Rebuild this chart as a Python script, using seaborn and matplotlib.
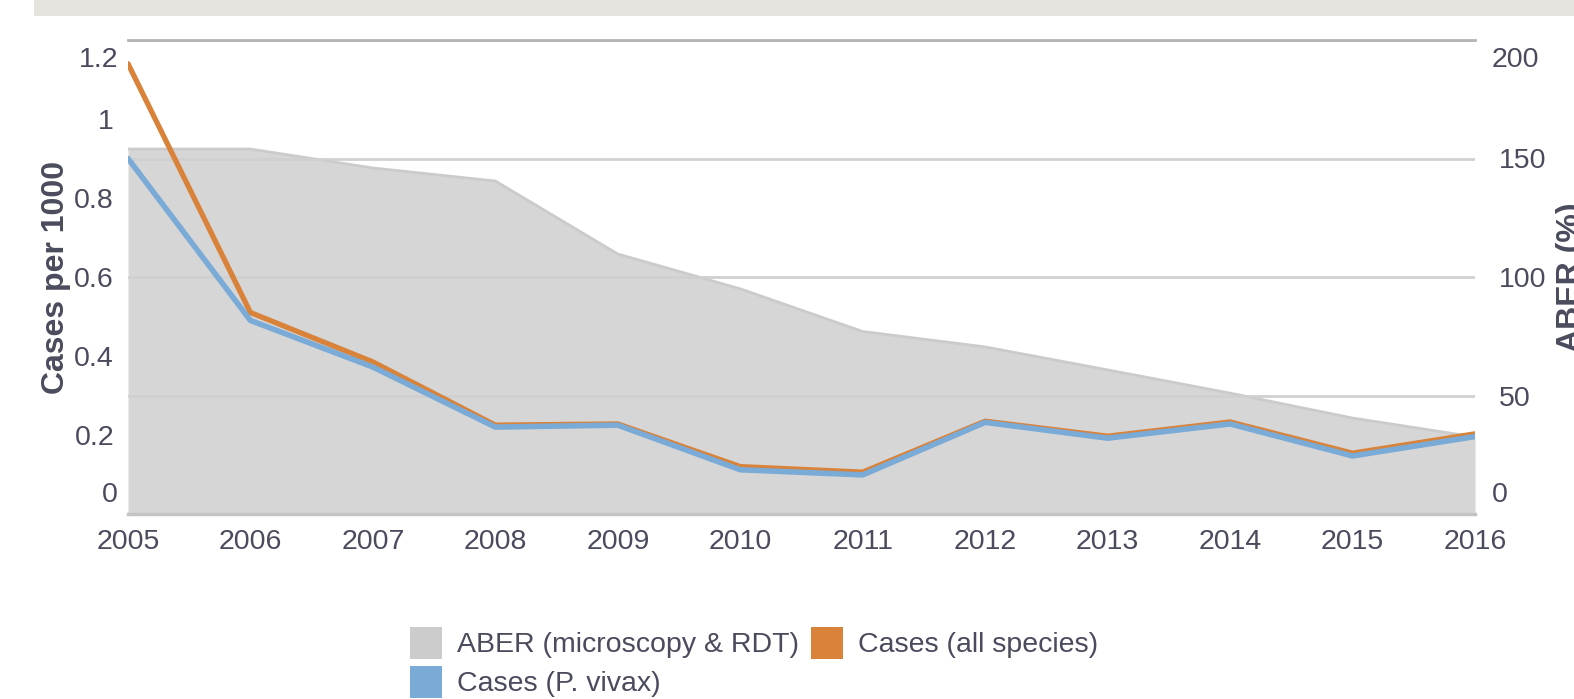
import matplotlib
matplotlib.use("Agg")
import matplotlib.pyplot as plt
import seaborn as sns
import pandas as pd
from matplotlib.patches import Patch, Rectangle

years = [2005, 2006, 2007, 2008, 2009, 2010, 2011, 2012, 2013, 2014, 2015, 2016]
cases_all = [1.14, 0.51, 0.385, 0.225, 0.228, 0.120, 0.106, 0.235, 0.197, 0.233, 0.154, 0.203]
cases_vivax = [0.90, 0.49, 0.372, 0.220, 0.225, 0.112, 0.099, 0.232, 0.192, 0.228, 0.147, 0.196]
aber = [154, 154, 146, 140.5, 109.7, 95, 77, 70.5, 60.8, 51, 40.5, 32.5]

left_ticks = [0, 0.2, 0.4, 0.6, 0.8, 1.0, 1.2]
left_labels = ["0", "0.2", "0.4", "0.6", "0.8", "1", "1.2"]
right_ticks = [0, 50, 100, 150, 200]
right_labels = ["0", "50", "100", "150", "200"]

df = pd.DataFrame({"year": years, "all": cases_all, "vivax": cases_vivax, "aber": aber})

TXT = "#4a4b5c"
GREY_FILL = "#d6d6d6"
GREY_EDGE = "#cbcbcb"
ORANGE = "#d9823a"
BLUE = "#7aaad6"
FS = 20.5

sns.set_theme(style="white")
plt.rcParams["font.family"] = ["Liberation Sans", "DejaVu Sans"]

W, H = 1574, 699
fig = plt.figure(figsize=(W / 100, H / 100), dpi=100)
fig.patches.append(Rectangle((34 / W, 1 - 16 / H), 1, 16 / H, transform=fig.transFigure,
                             facecolor="#e5e4df", edgecolor="none"))

pos = [128 / W, 1 - 514 / H, (1475 - 128) / W, (514 - 40) / H]
ax = fig.add_axes(pos)
ax2 = ax.twinx()

# ABER area on right axis
ax2.fill_between(df["year"], 0, df["aber"], color=GREY_FILL, linewidth=0, zorder=1)
sns.lineplot(data=df, x="year", y="aber", ax=ax2, color=GREY_EDGE, linewidth=2, zorder=1.2)
ax2.set_ylim(0, 200)
ax2.set_yticks(right_ticks)
ax2.set_yticklabels(["", "50", "100", "150", ""])
ax2.set_axisbelow("line")
ax2.yaxis.grid(True, color="#d0d0d0", linewidth=2)
ax2.xaxis.grid(False)

# Case lines on left axis (on top)
ax.set_zorder(ax2.get_zorder() + 1)
ax.patch.set_visible(False)
sns.lineplot(data=df, x="year", y="all", ax=ax, color=ORANGE, linewidth=3.8, zorder=3)
sns.lineplot(data=df, x="year", y="vivax", ax=ax, color=BLUE, linewidth=4.0, zorder=4)
ax.set_ylim(0, 1.2)
ax.set_xlim(2005, 2016)
ax.set_yticks(left_ticks)
ax.set_yticklabels(["", "0.2", "0.4", "0.6", "0.8", "1", ""])
ax.set_xticks(years)
ax.set_xticklabels([str(y) for y in years])
ax.grid(False)

for a in (ax, ax2):
    for s in ("left", "right"):
        a.spines[s].set_visible(False)
    a.spines["top"].set_visible(a is ax)
    a.spines["bottom"].set_visible(a is ax)
ax.spines["top"].set_color("#b4b4b4")
ax.spines["top"].set_linewidth(2)
ax.spines["bottom"].set_color("#c4c4c4")
ax.spines["bottom"].set_linewidth(2.5)

ax.tick_params(axis="y", length=0, pad=10, labelsize=FS, labelcolor=TXT)
ax.tick_params(axis="x", length=0, pad=11, labelsize=FS, labelcolor=TXT)
ax2.tick_params(axis="y", length=0, pad=17, labelsize=FS, labelcolor=TXT)

# edge labels shifted inward
ax.annotate(left_labels[-1], xy=(0, left_ticks[-1]), xycoords=("axes fraction", "data"),
            xytext=(-10, -20), textcoords="offset pixels", ha="right", va="center",
            fontsize=FS, color=TXT)
ax.annotate(left_labels[0], xy=(0, left_ticks[0]), xycoords=("axes fraction", "data"),
            xytext=(-10, 19), textcoords="offset pixels", ha="right", va="center",
            fontsize=FS, color=TXT)
ax2.annotate(right_labels[-1], xy=(1, right_ticks[-1]), xycoords=("axes fraction", "data"),
             xytext=(17, -20), textcoords="offset pixels", ha="left", va="center",
             fontsize=FS, color=TXT)
ax2.annotate(right_labels[0], xy=(1, right_ticks[0]), xycoords=("axes fraction", "data"),
             xytext=(17, 19), textcoords="offset pixels", ha="left", va="center",
             fontsize=FS, color=TXT)

ax.set_xlabel("")
ax.set_ylabel("Cases per 1000", fontsize=23, fontweight="bold", color=TXT)
ax2.set_ylabel("ABER (%)", fontsize=23, fontweight="bold", color=TXT)
ax.yaxis.set_label_coords(-57 / (1475 - 128), 0.5)
ax2.yaxis.set_label_coords(1 + (1556 - 1475) / (1475 - 128), 0.5)

handles = [Patch(facecolor="#cccccc", edgecolor="none"),
           Patch(facecolor=BLUE, edgecolor="none"),
           Patch(facecolor=ORANGE, edgecolor="none")]
labels = ["ABER (microscopy & RDT)", "Cases (P. vivax)", "Cases (all species)"]
leg = fig.legend(handles, labels, ncol=2, loc="upper left",
                 bbox_to_anchor=(407 / W, 1 - 624 / H), frameon=False, fontsize=FS,
                 handlelength=1.12, handleheight=1.35, handletextpad=0.55,
                 columnspacing=0.4, labelspacing=0.25, borderpad=0.1, borderaxespad=0)
for t in leg.get_texts():
    t.set_color(TXT)

fig.savefig("out.png", dpi=100)
